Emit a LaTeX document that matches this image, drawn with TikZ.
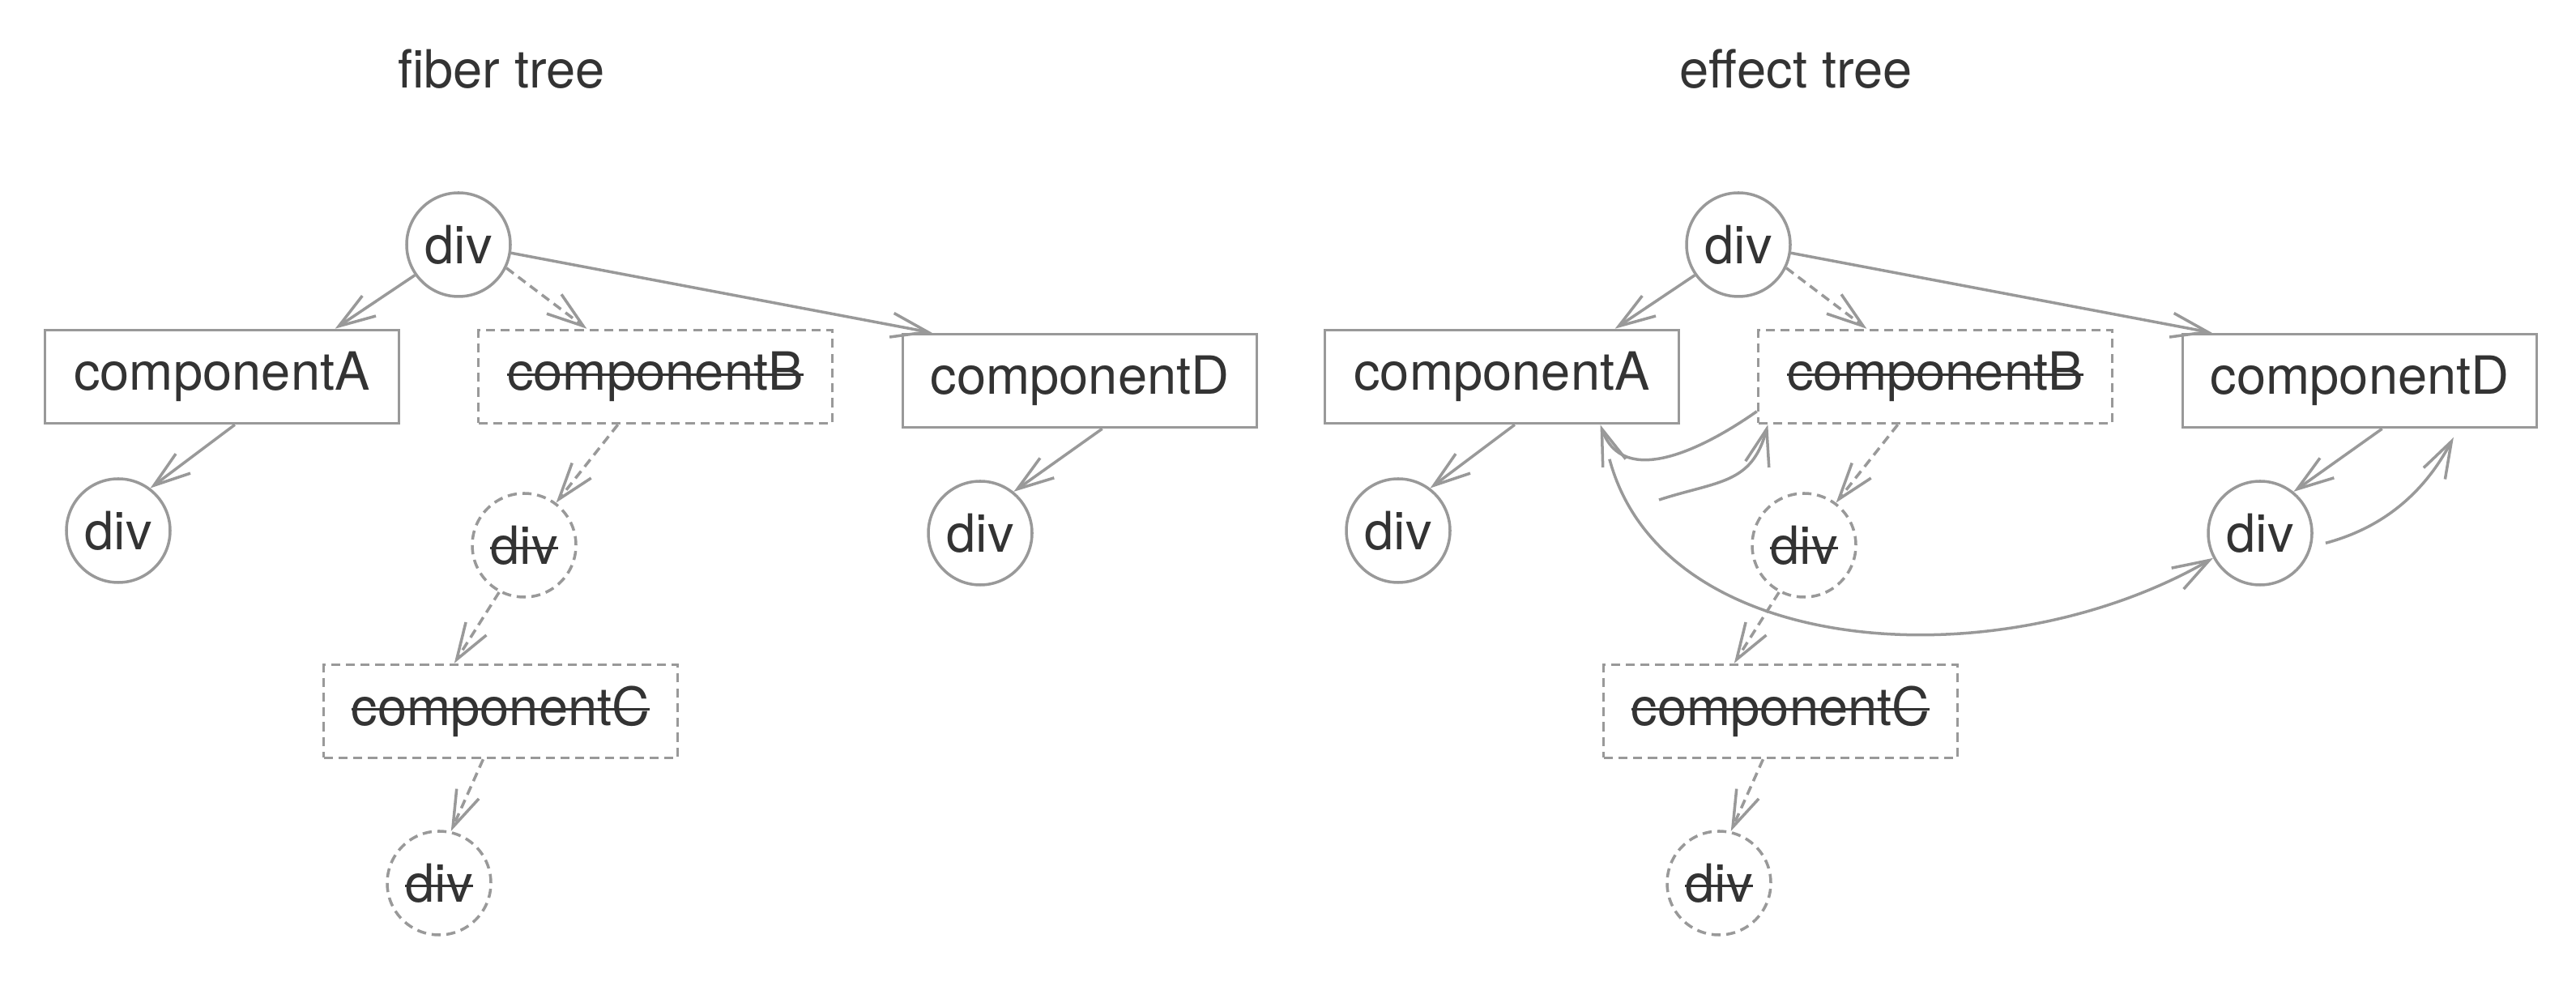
\documentclass[tikz,border=0pt]{standalone}
\usepackage{fontspec}
\setmainfont{TeX Gyre Heros}
\usetikzlibrary{arrows.meta}

\definecolor{linegray}{HTML}{999999}
\definecolor{textdark}{HTML}{333333}
\newcommand{\strk}[1]{\sbox0{#1}\rlap{\rule[.52ex]{\wd0}{.9pt}}\usebox0}

\begin{document}
\begin{tikzpicture}[
    every node/.style={text=textdark, font=\fontsize{18.5}{22}\selectfont},
    tag/.style={draw=linegray, line width=1pt, circle, minimum size=1.28cm, inner sep=0pt},
    comp/.style={draw=linegray, line width=1pt, rectangle, minimum width=4.37cm, minimum height=1.15cm, inner sep=0pt},
    gone/.style={dash pattern=on 3.2pt off 2pt},
    link/.style={draw=linegray, line width=1pt, -{Straight Barb[length=4.5mm,width=3mm]}},
  ]
  \useasboundingbox (0,0) rectangle (31.8,-12.22);

  % fiber tree
  \node (titleL) at (6.19,-0.85) {fiber tree};
  \node[tag] (rootL) at (5.66,-3.02) {div};
  \node[comp] (compAL) at (2.74,-4.65) {componentA};
  \node[comp, gone] (compBL) at (8.09,-4.65) {\strk{componentB}};
  \node[comp] (compDL) at (13.33,-4.70) {componentD};
  \node[tag] (divAL) at (1.46,-6.55) {div};
  \node[tag, gone] (divBL) at (6.47,-6.73) {\strk{div}};
  \node[tag] (divDL) at (12.10,-6.58) {div};
  \node[comp, gone] (compCL) at (6.18,-8.78) {\strk{componentC}};
  \node[tag, gone] (divCL) at (5.42,-10.90) {\strk{div}};

  \draw[link] (rootL.215) -- (compAL.23);
  \draw[link, gone] (rootL.334) -- (compBL.145);
  \draw[link] (rootL.351) -- (compDL.162);
  \draw[link] (compAL.285) -- (divAL.53);
  \draw[link, gone] (compBL.232) -- (divBL.53);
  \draw[link, gone] (divBL.242) -- (compCL.134);
  \draw[link, gone] (compCL.250) -- (divCL.77);
  \draw[link] (compDL.295) -- (divDL.51);

  % effect tree
  \node (titleR) at (22.17,-0.85) {effect tree};
  \node[tag] (rootR) at (21.46,-3.02) {div};
  \node[comp] (compAR) at (18.54,-4.65) {componentA};
  \node[comp, gone] (compBR) at (23.89,-4.65) {\strk{componentB}};
  \node[comp] (compDR) at (29.13,-4.70) {componentD};
  \node[tag] (divAR) at (17.26,-6.55) {div};
  \node[tag, gone] (divBR) at (22.27,-6.73) {\strk{div}};
  \node[tag] (divDR) at (27.90,-6.58) {div};
  \node[comp, gone] (compCR) at (21.98,-8.78) {\strk{componentC}};
  \node[tag, gone] (divCR) at (21.22,-10.90) {\strk{div}};

  \draw[link] (rootR.215) -- (compAR.23);
  \draw[link, gone] (rootR.334) -- (compBR.145);
  \draw[link] (rootR.351) -- (compDR.162);
  \draw[link] (compAR.285) -- (divAR.53);
  \draw[link, gone] (compBR.232) -- (divBR.53);
  \draw[link, gone] (divBR.242) -- (compCR.134);
  \draw[link, gone] (compCR.250) -- (divCR.77);
  \draw[link] (compDR.295) -- (divDR.51);

  % effect list
  \coordinate (hopR) at (20.48,-6.17);
  \draw[link] (compBR.191) to[out=215, in=290, looseness=1.1] (compAR.334);
  \draw[link] (hopR) to[out=18, in=255, looseness=1.2] (compBR.196);
  \draw[link, shorten <=4.4mm] (compAR.334) to[out=-75, in=210] (divDR.208);
  \draw[link, shorten <=1.8mm, shorten >=1.2mm] (divDR.345) to[out=15, in=242] (compDR.334);
\end{tikzpicture}
\end{document}
